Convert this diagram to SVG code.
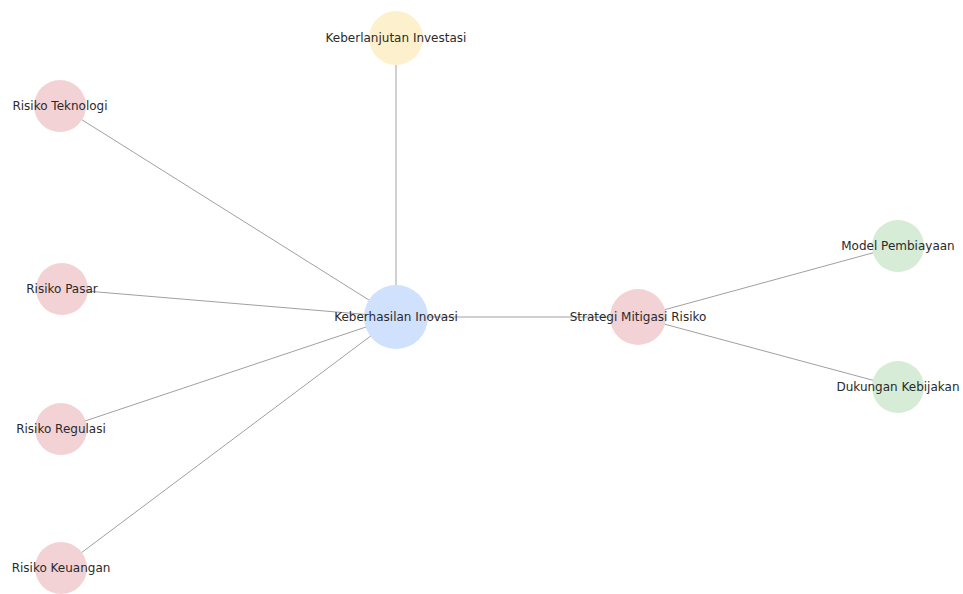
<svg xmlns="http://www.w3.org/2000/svg" width="963" height="594" viewBox="0 0 963 594">
<style>
.bg{fill:#ffffff}
.e{stroke:#a0a0a0;stroke-width:1;fill:none}
.n circle{stroke:none}
.risk{fill:#f3d2d5}
.main{fill:#cfe1fc}
.sust{fill:#fdf1cd}
.sup{fill:#d6ecd7}
text{font-family:"DejaVu Sans",Verdana,sans-serif;font-size:12px;fill:#2a2a2a;text-anchor:middle;dominant-baseline:central}
</style>
<rect class="bg" x="0" y="0" width="963" height="594"/>
<g id="connectors">
<line class="e" x1="396" y1="317" x2="396" y2="38"/>
<line class="e" x1="396" y1="317" x2="60" y2="106"/>
<line class="e" x1="396" y1="317" x2="62" y2="289"/>
<line class="e" x1="396" y1="317" x2="61" y2="429"/>
<line class="e" x1="396" y1="317" x2="61" y2="568"/>
<line class="e" x1="396" y1="317" x2="638" y2="317"/>
<line class="e" x1="638" y1="317" x2="898" y2="246"/>
<line class="e" x1="638" y1="317" x2="898" y2="387"/>
</g>
<g id="node-keberlanjutan" class="n"><circle class="sust" cx="396" cy="38" r="27"/><text x="396" y="38">Keberlanjutan Investasi</text></g>
<g id="node-teknologi" class="n"><circle class="risk" cx="60" cy="106" r="26"/><text x="60" y="106">Risiko Teknologi</text></g>
<g id="node-pasar" class="n"><circle class="risk" cx="62" cy="289" r="26"/><text x="62" y="289">Risiko Pasar</text></g>
<g id="node-regulasi" class="n"><circle class="risk" cx="61" cy="429" r="26"/><text x="61" y="429">Risiko Regulasi</text></g>
<g id="node-keuangan" class="n"><circle class="risk" cx="61" cy="568" r="26"/><text x="61" y="568">Risiko Keuangan</text></g>
<g id="node-keberhasilan" class="n"><circle class="main" cx="396" cy="317" r="32"/><text x="396" y="317">Keberhasilan Inovasi</text></g>
<g id="node-strategi" class="n"><circle class="risk" cx="638" cy="317" r="28"/><text x="638" y="317">Strategi Mitigasi Risiko</text></g>
<g id="node-model" class="n"><circle class="sup" cx="898" cy="246" r="26"/><text x="898" y="246">Model Pembiayaan</text></g>
<g id="node-dukungan" class="n"><circle class="sup" cx="898" cy="387" r="26"/><text x="898" y="387">Dukungan Kebijakan</text></g>
</svg>
